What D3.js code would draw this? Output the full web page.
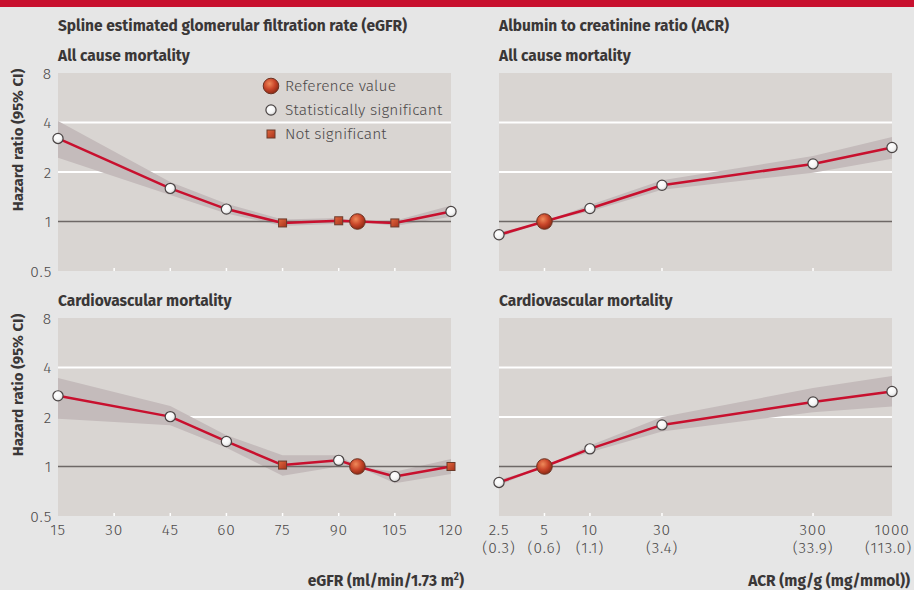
<!DOCTYPE html>
<html>
<head>
<meta charset="utf-8">
<script src="https://cdn.jsdelivr.net/npm/d3@7"></script>
<style>
  body { margin: 0; background: #e6e6e6; }
  svg { display: block; }
</style>
</head>
<body>
<script>
// tick values
let hrTicks = [0.5, 1, 2, 4, 8];
let egfrTicks = [15, 30, 45, 60, 75, 90, 105, 120];
let acrTicks = [2.5, 5, 10, 30, 300, 1000];
let acrMmolLabels = ["(0.3)", "(0.6)", "(1.1)", "(3.4)", "(33.9)", "(113.0)"];

// eGFR points
let egfrX = [15, 45, 60, 75, 90, 95, 105, 120];
let egfrAllHR = [3.2, 1.59, 1.19, 0.98, 1.01, 1, 0.98, 1.15];
let egfrAllLo = [2.44, 1.45, 1.12, 0.94, 0.97, 1, 0.94, 1.07];
let egfrAllHi = [4.08, 1.74, 1.28, 1.03, 1.05, 1, 1.01, 1.25];
let egfrAllType = ["sig", "sig", "sig", "ns", "ns", "ref", "ns", "sig"];

let egfrCvHR = [2.69, 2.01, 1.42, 1.02, 1.09, 1, 0.87, 1.0];
let egfrCvLo = [1.95, 1.78, 1.3, 0.88, 1.0, 1, 0.79, 0.9];
let egfrCvHi = [3.45, 2.33, 1.55, 1.17, 1.17, 1, 0.93, 1.11];
let egfrCvType = ["sig", "sig", "sig", "ns", "sig", "ref", "sig", "ns"];

// ACR points
let acrX = [2.5, 5, 10, 30, 300, 1000];
let acrAllHR = [0.83, 1, 1.2, 1.66, 2.24, 2.82];
let acrAllLo = [0.8, 1, 1.15, 1.56, 1.98, 2.41];
let acrAllHi = [0.86, 1, 1.26, 1.78, 2.5, 3.27];
let acrAllType = ["sig", "ref", "sig", "sig", "sig", "sig"];

let acrCvHR = [0.8, 1, 1.28, 1.79, 2.47, 2.86];
let acrCvLo = [0.77, 1, 1.22, 1.63, 2.14, 2.32];
let acrCvHi = [0.83, 1, 1.34, 2.0, 3.0, 3.55];
let acrCvType = ["sig", "ref", "sig", "sig", "sig", "sig"];

let width = 914, height = 590;
let svg = d3.select("body").append("svg")
	.attr("width", width)
	.attr("height", height)
	.style("font-family", "'Fira Sans', 'Open Sans', sans-serif");

let defs = svg.append("defs");
let refGrad = defs.append("radialGradient").attr("id", "refGrad")
	.attr("cx", "40%").attr("cy", "35%").attr("r", "65%");
refGrad.append("stop").attr("offset", "0%").attr("stop-color", "#ef8a5a");
refGrad.append("stop").attr("offset", "55%").attr("stop-color", "#c9462a");
refGrad.append("stop").attr("offset", "100%").attr("stop-color", "#8e2a15");
let sigGrad = defs.append("radialGradient").attr("id", "sigGrad")
	.attr("cx", "40%").attr("cy", "35%").attr("r", "70%");
sigGrad.append("stop").attr("offset", "0%").attr("stop-color", "#ffffff");
sigGrad.append("stop").attr("offset", "60%").attr("stop-color", "#f4f4f4");
sigGrad.append("stop").attr("offset", "100%").attr("stop-color", "#c9c9c9");
let nsGrad = defs.append("linearGradient").attr("id", "nsGrad")
	.attr("x1", 0).attr("y1", 0).attr("x2", 1).attr("y2", 1);
nsGrad.append("stop").attr("offset", "0%").attr("stop-color", "#e2683f");
nsGrad.append("stop").attr("offset", "100%").attr("stop-color", "#a8321b");

//red strip on top
svg.append("rect").attr("x", 0).attr("y", 0).attr("width", width).attr("height", 7).attr("fill", "#c8102e");

let textCol = "#3a3737";
let tickCol = "#4d4a4a";
let headSize = 15.5;
let tickSize = 15.5;
let tickSpacing = 0.8;

//column headings
svg.append("text").attr("x", 58).attr("y", 31).attr("font-weight", "bold").attr("font-size", headSize)
	.attr("fill", textCol).text("Spline estimated glomerular filtration rate (eGFR)");
svg.append("text").attr("x", 499).attr("y", 31).attr("font-weight", "bold").attr("font-size", headSize)
	.attr("fill", textCol).text("Albumin to creatinine ratio (ACR)");

let xLeft = d3.scaleLinear().domain([15, 120]).range([58, 451]);
let xRight = d3.scaleLog().domain([2.5, 1000]).range([499, 892]);

let panels = [
	{x: xLeft, top: 73, title: "All cause mortality", xs: egfrX, hr: egfrAllHR, lo: egfrAllLo, hi: egfrAllHi, type: egfrAllType, ticks: egfrTicks, yAxis: true},
	{x: xLeft, top: 318, title: "Cardiovascular mortality", xs: egfrX, hr: egfrCvHR, lo: egfrCvLo, hi: egfrCvHi, type: egfrCvType, ticks: egfrTicks, yAxis: true},
	{x: xRight, top: 73, title: "All cause mortality", xs: acrX, hr: acrAllHR, lo: acrAllLo, hi: acrAllHi, type: acrAllType, ticks: acrTicks, yAxis: false},
	{x: xRight, top: 318, title: "Cardiovascular mortality", xs: acrX, hr: acrCvHR, lo: acrCvLo, hi: acrCvHi, type: acrCvType, ticks: acrTicks, yAxis: false}
];

let panelH = 198;

panels.forEach(p => {
	let y = d3.scaleLog().base(2).domain([0.5, 8]).range([p.top + panelH, p.top]);
	let [x0, x1] = p.x.range();
	let g = svg.append("g");

	g.append("text").attr("x", x0).attr("y", p.top - 12).attr("font-weight", "bold").attr("font-size", headSize)
		.attr("fill", textCol).text(p.title);

	g.append("rect").attr("x", x0).attr("y", p.top).attr("width", x1 - x0).attr("height", panelH).attr("fill", "#d9d5d2");

	//white gridlines
	g.selectAll(".grid").data([2, 4]).enter().append("line")
		.attr("x1", x0).attr("x2", x1).attr("y1", d => y(d)).attr("y2", d => y(d))
		.attr("stroke", "#ffffff").attr("stroke-width", 2);

	//CI band
	let rows = p.xs.map((v, i) => ({x: v, hr: p.hr[i], lo: p.lo[i], hi: p.hi[i], type: p.type[i]}));
	let area = d3.area().x(d => p.x(d.x)).y0(d => y(d.lo)).y1(d => y(d.hi));
	g.append("path").datum(rows).attr("d", area).attr("fill", "#c4bbbb");

	//reference line at 1
	g.append("line").attr("x1", x0).attr("x2", x1).attr("y1", y(1)).attr("y2", y(1))
		.attr("stroke", "#6e6866").attr("stroke-width", 1.5);

	//small white ticks at bottom
	let inner = p.ticks.slice(1, -1);
	g.selectAll(".tk").data(inner).enter().append("line")
		.attr("x1", d => p.x(d)).attr("x2", d => p.x(d))
		.attr("y1", p.top + panelH - 3).attr("y2", p.top + panelH)
		.attr("stroke", "#ffffff").attr("stroke-width", 1.5);

	//y axis labels
	if (p.yAxis) {
		g.selectAll(".yl").data(hrTicks).enter().append("text")
			.attr("x", 52).attr("y", d => y(d)).attr("dy", "0.36em")
			.attr("text-anchor", "end").attr("font-size", tickSize).attr("font-weight", 300)
			.attr("letter-spacing", tickSpacing).attr("fill", tickCol)
			.text(d => d);
		g.append("text")
			.attr("transform", `translate(23, ${p.top + 67}) rotate(-90)`)
			.attr("text-anchor", "middle").attr("font-weight", "bold").attr("font-size", 15)
			.attr("fill", textCol).text("Hazard ratio (95% CI)");
	}

	//line
	let line = d3.line().x(d => p.x(d.x)).y(d => y(d.hr));
	g.append("path").datum(rows).attr("d", line)
		.attr("fill", "none").attr("stroke", "#c8102e").attr("stroke-width", 2.5)
		.attr("stroke-linejoin", "round");

	//markers
	rows.forEach(d => {
		let cx = p.x(d.x), cy = y(d.hr);
		if (d.type == "ref") {
			g.append("circle").attr("cx", cx).attr("cy", cy).attr("r", 7.8)
				.attr("fill", "url(#refGrad)").attr("stroke", "#6b3323").attr("stroke-width", 1);
		} else if (d.type == "sig") {
			g.append("circle").attr("cx", cx).attr("cy", cy).attr("r", 5.1)
				.attr("fill", "url(#sigGrad)").attr("stroke", "#4a4444").attr("stroke-width", 1.2);
		} else {
			g.append("rect").attr("x", cx - 4).attr("y", cy - 4).attr("width", 8).attr("height", 8)
				.attr("fill", "url(#nsGrad)").attr("stroke", "#6b3a2a").attr("stroke-width", 1);
		}
	});
});

//x axis labels (under bottom panels)
let labelY = 535;
svg.selectAll(".xl").data(egfrTicks).enter().append("text")
	.attr("x", d => xLeft(d)).attr("y", labelY).attr("text-anchor", "middle")
	.attr("font-size", tickSize).attr("font-weight", 300).attr("letter-spacing", tickSpacing)
	.attr("fill", tickCol).text(d => d);
svg.selectAll(".xr").data(acrTicks).enter().append("text")
	.attr("x", d => xRight(d)).attr("y", labelY).attr("text-anchor", "middle")
	.attr("font-size", tickSize).attr("font-weight", 300).attr("letter-spacing", tickSpacing)
	.attr("fill", tickCol).text(d => d);
svg.selectAll(".xr2").data(acrTicks).enter().append("text")
	.attr("x", d => xRight(d)).attr("y", labelY + 18).attr("text-anchor", "middle")
	.attr("font-size", tickSize).attr("font-weight", 300).attr("letter-spacing", tickSpacing)
	.attr("fill", tickCol).text((d, i) => acrMmolLabels[i])
	.each(function() { //keep the last label inside the picture
		let box = this.getBBox();
		if (box.x + box.width > width - 2) d3.select(this).attr("x", +d3.select(this).attr("x") - (box.x + box.width - width + 2));
	});

//axis titles
let t1 = svg.append("text").attr("x", 464).attr("y", 586).attr("text-anchor", "end")
	.attr("font-weight", "bold").attr("font-size", headSize).attr("fill", textCol);
t1.append("tspan").text("eGFR (ml/min/1.73 m");
t1.append("tspan").attr("font-size", 10).attr("dy", -6).text("2");
t1.append("tspan").attr("dy", 6).text(")");
svg.append("text").attr("x", 910).attr("y", 586).attr("text-anchor", "end")
	.attr("font-weight", "bold").attr("font-size", headSize).attr("fill", textCol)
	.text("ACR (mg/g (mg/mmol))");

//legend
let legendItems = ["Reference value", "Statistically significant", "Not significant"];
let lg = svg.append("g");
legendItems.forEach((name, i) => {
	let ly = 86 + i * 24;
	if (i == 0) lg.append("circle").attr("cx", 271).attr("cy", ly).attr("r", 7.8)
		.attr("fill", "url(#refGrad)").attr("stroke", "#6b3323");
	if (i == 1) lg.append("circle").attr("cx", 271).attr("cy", ly).attr("r", 5.1)
		.attr("fill", "url(#sigGrad)").attr("stroke", "#4a4444").attr("stroke-width", 1.2);
	if (i == 2) lg.append("rect").attr("x", 267).attr("y", ly - 4).attr("width", 8).attr("height", 8)
		.attr("fill", "url(#nsGrad)").attr("stroke", "#6b3a2a");
	lg.append("text").attr("x", 285).attr("y", ly).attr("dy", "0.35em")
		.attr("font-size", tickSize).attr("font-weight", 300).attr("letter-spacing", 0.1)
		.attr("fill", tickCol).text(name);
});
</script>
</body>
</html>
